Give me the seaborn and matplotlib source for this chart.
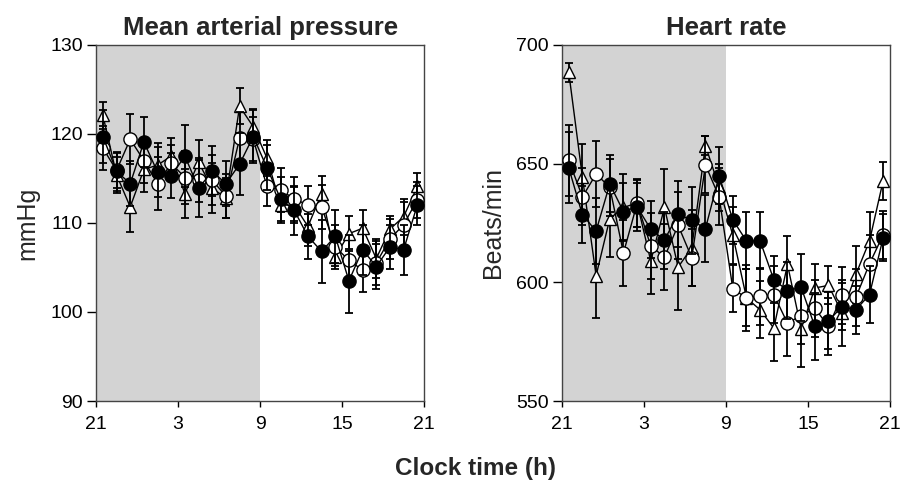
import matplotlib

matplotlib.use("Agg")
import matplotlib.pyplot as plt
import seaborn as sns

# hours after 21:00 (hourly means plotted mid-hour)
hours = [0.5, 1.5, 2.5, 3.5, 4.5, 5.5, 6.5, 7.5, 8.5, 9.5, 10.5, 11.5,
         12.5, 13.5, 14.5, 15.5, 16.5, 17.5, 18.5, 19.5, 20.5, 21.5, 22.5, 23.5]
tick_pos = [0, 6, 12, 18, 24]
tick_labels = ["21", "3", "9", "15", "21"]
dark_end = 12

# Mean arterial pressure (mmHg)
map_filled = [119.7, 115.8, 114.4, 119.1, 115.7, 115.3, 117.5, 113.9, 115.8, 114.4, 116.6, 119.7,
              116.2, 112.7, 111.4, 108.5, 106.8, 108.5, 103.5, 107.0, 105.1, 107.3, 107.0, 112.0]
map_filled_err = [3.0, 2.2, 2.5, 2.8, 2.8, 2.5, 3.5, 3.2, 2.8, 2.5, 3.5, 3.0,
                  2.5, 2.5, 2.8, 2.5, 3.5, 3.0, 3.6, 2.8, 2.5, 2.5, 2.8, 2.2]
map_open = [118.4, 115.9, 119.4, 117.0, 114.4, 116.7, 115.1, 114.8, 114.8, 113.0, 119.5, 119.4,
            114.1, 113.7, 112.7, 112.0, 111.8, 107.3, 105.8, 104.7, 105.5, 108.2, 109.8, 112.6]
map_open_err = [2.5, 2.0, 2.8, 2.5, 3.0, 2.0, 3.0, 2.5, 2.8, 2.5, 3.0, 2.5,
                2.2, 2.5, 2.5, 2.2, 2.5, 2.5, 2.8, 2.5, 2.5, 2.2, 2.5, 2.0]
map_tri = [122.1, 115.4, 111.8, 116.0, 116.5, 117.5, 113.3, 116.8, 113.9, 112.8, 123.1, 120.8,
           117.3, 112.0, 112.0, 109.6, 113.3, 106.2, 108.8, 109.4, 106.0, 109.3, 110.7, 114.1]
map_tri_err = [1.5, 2.0, 2.8, 2.5, 2.5, 2.0, 2.8, 2.5, 2.8, 2.2, 2.0, 2.0,
               2.0, 2.0, 2.0, 2.2, 2.0, 1.0, 2.0, 2.0, 2.2, 1.5, 2.0, 1.5]

# Heart rate (beats/min)
hr_filled = [648.2, 628.4, 621.6, 641.4, 629.8, 631.8, 622.3, 617.8, 628.7, 626.1, 622.6, 644.9,
             626.3, 617.4, 617.4, 601.1, 596.5, 597.9, 581.4, 583.8, 589.8, 588.4, 594.8, 618.8]
hr_filled_err = [15.0, 12.0, 14.0, 12.0, 12.0, 10.0, 12.0, 12.0, 14.0, 14.0, 14.0, 12.0,
                 10.0, 12.0, 12.0, 10.0, 12.0, 14.0, 14.0, 12.0, 10.0, 10.0, 12.0, 10.0]
hr_open = [651.3, 636.0, 645.6, 640.0, 612.3, 633.2, 615.3, 610.6, 624.0, 610.3, 649.4, 636.0,
           597.3, 593.4, 594.1, 594.8, 582.8, 586.0, 589.1, 581.4, 594.5, 593.6, 607.8, 620.0]
hr_open_err = [15.0, 12.0, 14.0, 12.0, 14.0, 10.0, 14.0, 14.0, 14.0, 12.0, 12.0, 12.0,
               10.0, 12.0, 12.0, 12.0, 14.0, 12.0, 12.0, 12.0, 12.0, 12.0, 12.0, 10.0]
hr_tri = [688.4, 644.2, 602.8, 626.8, 631.5, 633.4, 608.9, 631.5, 606.4, 614.6, 657.6, 640.0,
          619.8, 593.4, 588.4, 580.7, 607.5, 580.4, 597.6, 598.7, 587.0, 603.3, 617.4, 642.8]
hr_tri_err = [4.0, 14.0, 18.0, 16.0, 14.0, 10.0, 14.0, 16.0, 18.0, 16.0, 4.0, 10.0,
              12.0, 14.0, 12.0, 14.0, 12.0, 16.0, 10.0, 8.0, 14.0, 12.0, 12.0, 8.0]

sns.set_theme(style="white")
plt.rcParams["font.family"] = ["Liberation Sans", "DejaVu Sans"]

fig, axes = plt.subplots(1, 2, figsize=(9.01, 4.82), dpi=100)
fig.subplots_adjust(left=0.1066, right=0.9878, top=0.907, bottom=0.168, wspace=0.42)

panels = [
    (axes[0], "Mean arterial pressure", "mmHg", (90, 130), [90, 100, 110, 120, 130],
     [(map_tri, map_tri_err, "^", "white"),
      (map_open, map_open_err, "o", "white"),
      (map_filled, map_filled_err, "o", "black")]),
    (axes[1], "Heart rate", "Beats/min", (550, 700), [550, 600, 650, 700],
     [(hr_tri, hr_tri_err, "^", "white"),
      (hr_open, hr_open_err, "o", "white"),
      (hr_filled, hr_filled_err, "o", "black")]),
]

for ax, title, ylabel, ylim, yticks, series in panels:
    ax.axvspan(0, dark_end, color="#d3d3d3", lw=0, zorder=0)
    for z, (vals, errs, marker, face) in enumerate(series):
        ax.errorbar(hours, vals, yerr=errs, fmt="none", ecolor="black",
                    elinewidth=1.3, capsize=3.2, capthick=1.3, zorder=2 + z)
        sns.lineplot(x=hours, y=vals, ax=ax, color="black", lw=1.0,
                     marker=marker, markersize=9.5 if marker == "o" else 9,
                     markerfacecolor=face, markeredgecolor="black",
                     markeredgewidth=1.0, zorder=3 + z)
    ax.set_xlim(0, 24)
    ax.set_ylim(*ylim)
    ax.set_xticks(tick_pos)
    ax.set_xticklabels(tick_labels)
    ax.set_yticks(yticks)
    ax.set_title(title, fontsize=18.5, fontweight="bold", pad=7)
    ax.set_ylabel(ylabel, fontsize=18, labelpad=8)
    ax.set_xlabel("")
    ax.tick_params(axis="y", direction="out", length=6.5, width=1, colors="black",
                   labelsize=14, left=True, pad=3)
    ax.tick_params(axis="x", direction="out", length=4, width=1, colors="black",
                   labelsize=14, bottom=True, pad=7)
    for s in ax.spines.values():
        s.set_color("#444444")
        s.set_linewidth(1.0)

fig.text(0.528, 0.029, "Clock time (h)", ha="center", va="center",
         fontsize=17.5, fontweight="bold")

fig.savefig("out.png", dpi=100)
plt.close(fig)
